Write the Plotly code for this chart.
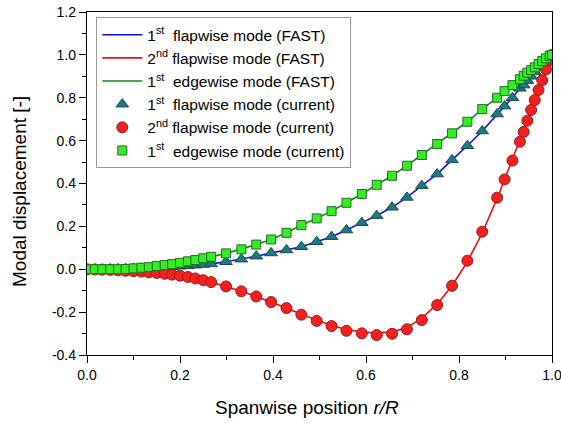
import plotly.graph_objects as go

# Spanwise positions r/R (shared by all series)
r = [0.000, 0.017, 0.033, 0.050, 0.067, 0.083, 0.100, 0.117, 0.133, 0.150, 0.167, 0.183,
     0.200, 0.217, 0.233, 0.250, 0.267,
     0.299, 0.332, 0.364, 0.396, 0.429, 0.461, 0.494, 0.526, 0.558, 0.591, 0.623, 0.656,
     0.688, 0.720, 0.753, 0.785, 0.818, 0.850, 0.882,
     0.898, 0.915, 0.931, 0.939, 0.947, 0.955, 0.963, 0.971, 0.979, 0.987, 0.995, 1.000]

# 1st flapwise mode
flap1_fast = [0.000, 0.000, 0.000, 0.001, 0.002, 0.003, 0.004, 0.005, 0.006, 0.008, 0.010, 0.012,
              0.014, 0.016, 0.019, 0.022, 0.025,
              0.035, 0.047, 0.061, 0.076, 0.090, 0.105, 0.128, 0.152, 0.183, 0.217, 0.250, 0.289,
              0.335, 0.390, 0.444, 0.510, 0.576, 0.645, 0.724,
              0.761, 0.800, 0.844, 0.859, 0.880, 0.900, 0.921, 0.942, 0.960, 0.979, 0.994, 1.000]
flap1_cur = list(flap1_fast)

# 2nd flapwise mode
flap2_fast = [0.000, -0.001, -0.002, -0.003, -0.005, -0.007, -0.009, -0.011, -0.014, -0.017, -0.021, -0.025,
              -0.030, -0.036, -0.043, -0.051, -0.060,
              -0.080, -0.103, -0.127, -0.153, -0.181, -0.210, -0.238, -0.262, -0.281, -0.293, -0.297, -0.292,
              -0.272, -0.228, -0.163, -0.077, 0.035, 0.170, 0.330,
              0.419, 0.507, 0.595, 0.641, 0.693, 0.743, 0.789, 0.836, 0.882, 0.932, 0.976, 1.000]
flap2_cur = [0.000, -0.001, -0.002, -0.003, -0.005, -0.007, -0.009, -0.011, -0.014, -0.017, -0.021, -0.025,
             -0.030, -0.036, -0.043, -0.051, -0.060,
             -0.080, -0.103, -0.127, -0.153, -0.181, -0.212, -0.241, -0.265, -0.287, -0.299, -0.307, -0.301,
             -0.280, -0.237, -0.167, -0.077, 0.040, 0.175, 0.334,
             0.419, 0.507, 0.595, 0.641, 0.693, 0.743, 0.789, 0.836, 0.882, 0.932, 0.976, 1.000]

# 1st edgewise mode
edge1_fast = [0.000, 0.000, 0.000, 0.000, 0.000, 0.001, 0.004, 0.007, 0.010, 0.015, 0.020, 0.024,
              0.030, 0.037, 0.043, 0.051, 0.058,
              0.074, 0.093, 0.115, 0.139, 0.170, 0.206, 0.237, 0.271, 0.310, 0.351, 0.394, 0.436,
              0.483, 0.533, 0.584, 0.634, 0.688, 0.747, 0.800,
              0.831, 0.859, 0.887, 0.903, 0.917, 0.929, 0.942, 0.957, 0.971, 0.984, 0.996, 1.000]
edge1_cur = list(edge1_fast)

names_fast = ["1<sup>st</sup>\u00a0 flapwise mode (FAST)",
              "2<sup>nd</sup> flapwise mode (FAST)",
              "1<sup>st</sup>\u00a0 edgewise mode (FAST)"]
names_cur = ["1<sup>st</sup>\u00a0 flapwise mode (current)",
             "2<sup>nd</sup> flapwise mode (current)",
             "1<sup>st</sup>\u00a0 edgewise mode (current)"]

FONT = "Liberation Sans, Arial, sans-serif"

fig = go.Figure()
fig.add_trace(go.Scatter(x=r, y=flap1_fast, mode="lines", name=names_fast[0],
                         line=dict(color="#1010e0", width=1.6)))
fig.add_trace(go.Scatter(x=r, y=flap2_fast, mode="lines", name=names_fast[1],
                         line=dict(color="#f01010", width=1.6)))
fig.add_trace(go.Scatter(x=r, y=edge1_fast, mode="lines", name=names_fast[2],
                         line=dict(color="#108a10", width=1.6)))
fig.add_trace(go.Scatter(x=r, y=flap1_cur, mode="markers", name=names_cur[0],
                         marker=dict(symbol="triangle-up", size=11, color="#1c7a82",
                                     line=dict(color="#1a4a50", width=1))))
fig.add_trace(go.Scatter(x=r, y=flap2_cur, mode="markers", name=names_cur[1],
                         marker=dict(symbol="circle", size=11, color="#f42020",
                                     line=dict(color="#902020", width=1))))
fig.add_trace(go.Scatter(x=r, y=edge1_cur, mode="markers", name=names_cur[2],
                         marker=dict(symbol="square", size=9, color="#33ee22",
                                     line=dict(color="#2a6a2a", width=1))))

fig.update_layout(
    width=561, height=423,
    margin=dict(l=87, r=9, t=12, b=68, autoexpand=False),
    paper_bgcolor="white", plot_bgcolor="white",
    font=dict(family=FONT, size=14, color="black"),
    showlegend=True,
    legend=dict(x=0.02, y=0.985, xanchor="left", yanchor="top",
                bordercolor="#9a9a9a", borderwidth=1, bgcolor="white",
                font=dict(family=FONT, size=15.5, color="black"),
                itemwidth=40, tracegroupgap=0),
    xaxis=dict(range=[0, 1.0], tickvals=[0, 0.2, 0.4, 0.6, 0.8, 1.0],
               ticktext=["0.0", "0.2", "0.4", "0.6", "0.8", "1.0"],
               ticks="outside", ticklen=7, tickwidth=1.2, tickcolor="black",
               minor=dict(tickvals=[0.1, 0.3, 0.5, 0.7, 0.9], ticks="outside", ticklen=4,
                          tickcolor="black", tickwidth=1.2),
               showline=True, linecolor="black", linewidth=1.3, mirror=True,
               showgrid=False, zeroline=False, automargin=False,
               ticklabeloverflow="allow",
               tickfont=dict(family=FONT, size=14, color="black")),
    yaxis=dict(range=[-0.4, 1.2], tickvals=[-0.4, -0.2, 0.0, 0.2, 0.4, 0.6, 0.8, 1.0, 1.2],
               ticktext=["-0.4", "-0.2", "0.0", "0.2", "0.4", "0.6", "0.8", "1.0", "1.2"],
               ticks="outside", ticklen=7, tickwidth=1.2, tickcolor="black",
               minor=dict(tickvals=[-0.3, -0.1, 0.1, 0.3, 0.5, 0.7, 0.9, 1.1], ticks="outside",
                          ticklen=4, tickcolor="black", tickwidth=1.2),
               showline=True, linecolor="black", linewidth=1.3, mirror=True,
               showgrid=False, zeroline=False, automargin=False,
               ticklabeloverflow="allow",
               tickfont=dict(family=FONT, size=14, color="black")),
    annotations=[
        dict(text="Spanwise position <i>r/R</i>", xref="paper", yref="paper",
             x=(307 - 87) / 465, y=-(408 - 355) / 343, xanchor="center", yanchor="middle",
             showarrow=False, font=dict(family=FONT, size=19, color="black")),
        dict(text="Modal displacement [-]", xref="paper", yref="paper",
             x=-(87 - 20) / 465, y=(355 - 192) / 343, xanchor="center", yanchor="middle",
             textangle=-90, showarrow=False, font=dict(family=FONT, size=19, color="black")),
    ],
)

fig.write_html("out.html")
